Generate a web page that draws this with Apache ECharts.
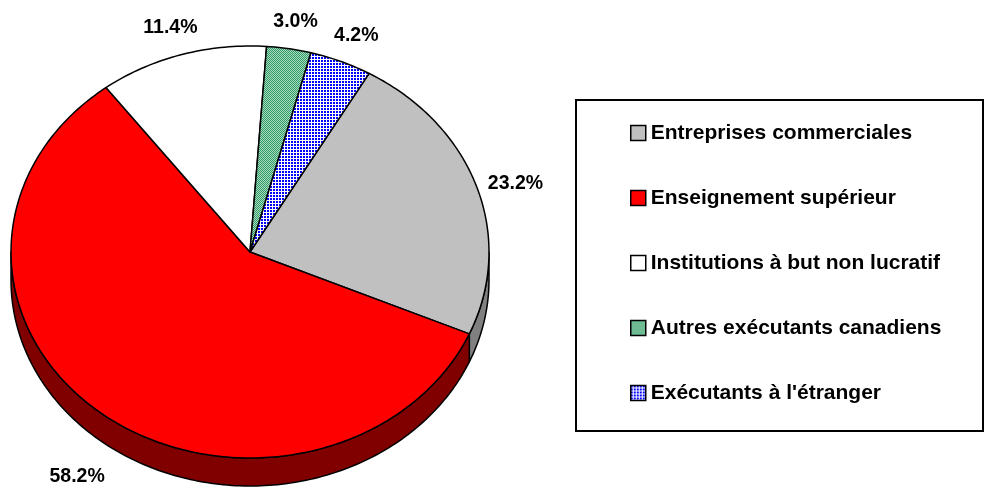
<!DOCTYPE html>
<html>
<head>
<meta charset="utf-8">
<script src="https://cdn.jsdelivr.net/npm/echarts@6/dist/echarts.min.js"></script>
<style>
  html, body { margin: 0; padding: 0; background: #fff; }
  #chart { width: 985px; height: 489px; }
</style>
</head>
<body>
<div id="chart"></div>
<script>
let chart = echarts.init(document.getElementById('chart'));

// data
let categories = ['Entreprises commerciales', 'Enseignement supérieur', 'Institutions à but non lucratif', 'Autres exécutants canadiens', "Exécutants à l'étranger"];
let shares = [23.2, 58.2, 11.4, 3.0, 4.2];

// looks
let topColors = ['#c0c0c0', '#ff0000', '#ffffff', 'green-pattern', 'blue-pattern'];
let sideColors = ['#808080', '#800000', '#808080', '#2a6b4f', '#00007f'];
let startOffset = 29.9; // degrees clockwise from 12 o'clock
let depth = 28;
let font = '"Liberation Sans", Arial, sans-serif';

function makePattern(size, draw) {
  let c = document.createElement('canvas');
  c.width = size;
  c.height = size;
  draw(c.getContext('2d'));
  return { image: c, repeat: 'repeat' };
}

let greenPattern = makePattern(2, ctx => {
  ctx.fillStyle = '#a8dcc0';
  ctx.fillRect(0, 0, 2, 2);
  ctx.fillStyle = '#339966';
  ctx.fillRect(0, 0, 1, 1);
  ctx.fillRect(1, 1, 1, 1);
});

let bluePattern = makePattern(3, ctx => {
  ctx.fillStyle = '#ffffff';
  ctx.fillRect(0, 0, 3, 3);
  ctx.fillStyle = '#0000ff';
  ctx.fillRect(0, 0, 2, 2);
});

function fillFor(i) {
  if (topColors[i] === 'green-pattern') return greenPattern;
  if (topColors[i] === 'blue-pattern') return bluePattern;
  return topColors[i];
}

let total = shares.reduce((a, b) => a + b, 0);

function sliceAngles(i) {
  let before = 0;
  for (let k = 0; k < i; k++) before += shares[k];
  let start = startOffset + before / total * 360;
  let end = start + shares[i] / total * 360;
  return [start, end];
}

function rimPoint(api, deg, r) {
  let a = deg * Math.PI / 180;
  return api.coord([r * Math.sin(a), r * Math.cos(a)]);
}

function renderSlice(params, api) {
  let i = params.seriesIndex;
  let [start, end] = sliceAngles(i);
  let children = [];

  // visible side wall (front half, 90..270 deg)
  for (let turn = 0; turn <= 360; turn += 360) {
    let a0 = Math.max(start, 90 + turn);
    let a1 = Math.min(end, 270 + turn);
    if (a1 > a0) {
      let upper = [];
      for (let a = a0; a < a1; a += 1) upper.push(rimPoint(api, a, 1));
      upper.push(rimPoint(api, a1, 1));
      let lower = upper.map(p => [p[0], p[1] + depth]).reverse();
      children.push({
        type: 'polygon',
        shape: { points: upper.concat(lower) },
        style: { fill: sideColors[i], stroke: '#000', lineWidth: 1.5, lineJoin: 'round' }
      });
    }
  }

  // top face
  let pts = [api.coord([0, 0])];
  for (let a = start; a < end; a += 1) pts.push(rimPoint(api, a, 1));
  pts.push(rimPoint(api, end, 1));
  children.push({
    type: 'polygon',
    shape: { points: pts },
    style: { fill: fillFor(i), stroke: '#000', lineWidth: 1.5, lineJoin: 'round' }
  });

  // percent label
  let mid = (start + end) / 2;
  let lp = rimPoint(api, mid, 1.17);
  lp[1] += 7;
  if (Math.cos(mid * Math.PI / 180) < 0) lp[1] += depth;
  children.push({
    type: 'text',
    style: {
      text: shares[i].toFixed(1) + '%',
      x: lp[0],
      y: lp[1],
      fill: '#000',
      font: 'bold 19.5px ' + font,
      align: 'center',
      verticalAlign: 'middle'
    }
  });

  return { type: 'group', children: children };
}

let series = categories.map((name, i) => ({
  name: name,
  type: 'custom',
  coordinateSystem: 'cartesian2d',
  renderItem: renderSlice,
  itemStyle: { color: fillFor(i) },
  data: [[0, 0, shares[i]]],
  encode: { x: 0, y: 1 },
  silent: true
}));

let options = {
  animation: false,
  backgroundColor: '#fff',
  grid: { left: 11, top: 46, width: 478, height: 412 },
  xAxis: { type: 'value', min: -1, max: 1, show: false },
  yAxis: { type: 'value', min: -1, max: 1, show: false },
  legend: {
    data: categories,
    orient: 'vertical',
    left: 630,
    top: 122,
    padding: 0,
    itemWidth: 15,
    itemHeight: 15,
    itemGap: 43,
    icon: 'rect',
    selectedMode: false,
    itemStyle: { borderColor: '#000', borderWidth: 1.5 },
    textStyle: { color: '#000', fontSize: 21, fontWeight: 'bold', fontFamily: font, lineHeight: 22 }
  },
  graphic: [
    {
      type: 'rect',
      shape: { x: 576, y: 100, width: 407, height: 331 },
      style: { fill: 'none', stroke: '#000', lineWidth: 2 }
    }
  ],
  series: series
};

chart.setOption(options);
</script>
</body>
</html>
